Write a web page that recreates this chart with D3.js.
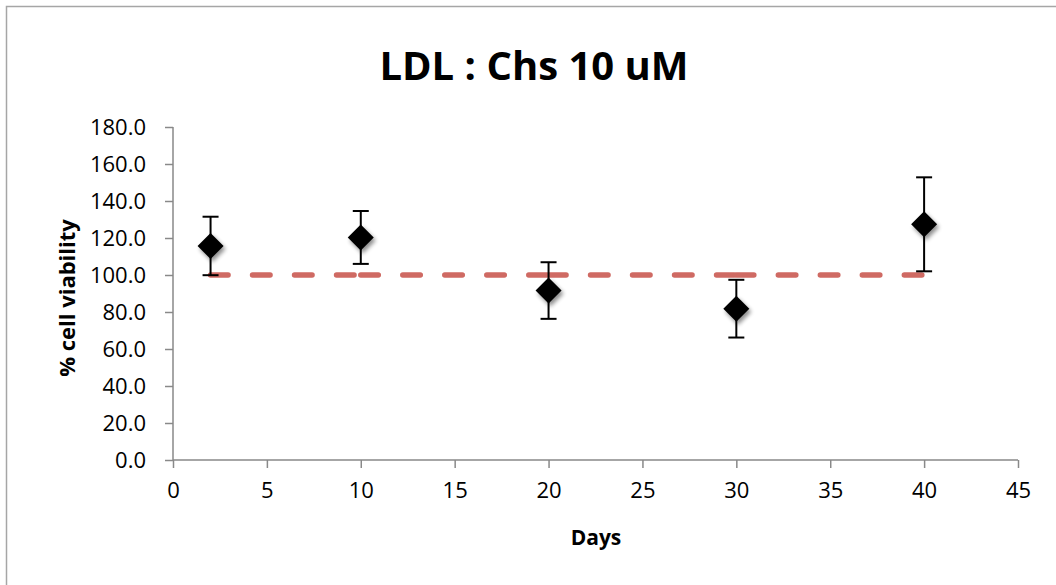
<!DOCTYPE html>
<html>
<head>
<meta charset="utf-8">
<script src="https://cdn.jsdelivr.net/npm/d3@7"></script>
<style>
  body { margin: 0; background: #fff; }
  svg { display: block; font-family: "Open Sans", sans-serif; }
</style>
</head>
<body>
<svg width="1056" height="585"></svg>
<script>
// data
var days = [2, 10, 20, 30, 40],
    viability = [115.7, 120.3, 91.6, 81.8, 127.4],
    errors = [15.8, 14.3, 15.3, 15.6, 25.4],
    controlLevel = [100, 100, 100, 100, 100],
    xTicks = [0, 5, 10, 15, 20, 25, 30, 35, 40, 45],
    yTicks = [0, 20, 40, 60, 80, 100, 120, 140, 160, 180];

var svg = d3.select('svg'),
    axisColor = '#898989',
    lineColor = '#cf6a63',
    plotLeft = 173,
    plotRight = 1018,
    plotTop = 127,
    plotBottom = 460;

// chart border (only left and top edges visible in the crop)
svg.append('path')
    .attr('d', 'M6.5,585 V6.5 H1056')
    .attr('fill', 'none')
    .attr('stroke', '#a6a6a6')
    .attr('stroke-width', 1.5);

var x = d3.scaleLinear().domain([0, 45]).range([plotLeft, plotRight]);
var y = d3.scaleLinear().domain([0, 180]).range([plotBottom, plotTop]);

var defs = svg.append('defs');
var shadow = defs.append('filter')
    .attr('id', 'shadow')
    .attr('x', '-50%').attr('y', '-50%')
    .attr('width', '200%').attr('height', '200%');
shadow.append('feGaussianBlur').attr('in', 'SourceAlpha').attr('stdDeviation', 2.2);
shadow.append('feOffset').attr('dx', 1.5).attr('dy', 3).attr('result', 'blur');
shadow.append('feComponentTransfer').append('feFuncA').attr('type', 'linear').attr('slope', 0.45);
var merge = shadow.append('feMerge');
merge.append('feMergeNode');
merge.append('feMergeNode').attr('in', 'SourceGraphic');

// axes
var yAxis = d3.axisLeft(y)
    .tickValues(yTicks)
    .tickFormat(d3.format('.1f'))
    .tickSize(8)
    .tickPadding(19);

var xAxis = d3.axisBottom(x)
    .tickValues(xTicks)
    .tickSize(8)
    .tickPadding(14);

var gY = svg.append('g')
    .attr('transform', `translate(${plotLeft},0)`)
    .call(yAxis);

var gX = svg.append('g')
    .attr('transform', `translate(0,${plotBottom})`)
    .call(xAxis);

[gX, gY].forEach(function(g) {
    g.select('.domain').remove();
    g.selectAll('.tick line').attr('stroke', axisColor).attr('stroke-width', 1.5);
    g.selectAll('.tick text')
        .attr('fill', '#000')
        .style('font-size', '22px')
        .style('font-family', '"Open Sans", sans-serif');
});

svg.append('line')
    .attr('x1', plotLeft).attr('x2', plotLeft)
    .attr('y1', plotTop).attr('y2', plotBottom)
    .attr('stroke', axisColor).attr('stroke-width', 1.5);
svg.append('line')
    .attr('x1', plotLeft).attr('x2', plotRight)
    .attr('y1', plotBottom).attr('y2', plotBottom)
    .attr('stroke', axisColor).attr('stroke-width', 1.5);

// dashed control line, dash pattern restarts on each segment
d3.pairs(d3.zip(days, controlLevel)).forEach(function(p) {
    svg.append('line')
        .attr('x1', x(p[0][0])).attr('y1', y(p[0][1]))
        .attr('x2', x(p[1][0])).attr('y2', y(p[1][1]))
        .attr('stroke', lineColor)
        .attr('stroke-width', 5.5)
        .attr('stroke-linecap', 'round')
        .attr('stroke-dasharray', '17.5 24.5');
});

// error bars
var bars = svg.append('g')
    .selectAll('g')
    .data(days)
    .enter().append('g')
    .attr('stroke', '#000')
    .attr('stroke-width', 2);

bars.append('line')
    .attr('x1', d => x(d)).attr('x2', d => x(d))
    .attr('y1', (d, i) => y(viability[i] - errors[i]))
    .attr('y2', (d, i) => y(viability[i] + errors[i]));
bars.append('line')
    .attr('x1', d => x(d) - 8).attr('x2', d => x(d) + 8)
    .attr('y1', (d, i) => y(viability[i] + errors[i]))
    .attr('y2', (d, i) => y(viability[i] + errors[i]));
bars.append('line')
    .attr('x1', d => x(d) - 8).attr('x2', d => x(d) + 8)
    .attr('y1', (d, i) => y(viability[i] - errors[i]))
    .attr('y2', (d, i) => y(viability[i] - errors[i]));

// diamond markers
svg.append('g')
    .selectAll('path')
    .data(days)
    .enter().append('path')
    .attr('d', 'M0,-13 L13,0 L0,13 L-13,0 Z')
    .attr('transform', (d, i) => `translate(${x(d)},${y(viability[i])})`)
    .attr('fill', '#000')
    .attr('filter', 'url(#shadow)');

// titles
svg.append('text')
    .attr('x', 534).attr('y', 80)
    .attr('text-anchor', 'middle')
    .style('font-size', '40px')
    .style('font-weight', 'bold')
    .text('LDL : Chs 10 uM');

svg.append('text')
    .attr('x', 596).attr('y', 545)
    .attr('text-anchor', 'middle')
    .style('font-size', '21px')
    .style('font-weight', 'bold')
    .text('Days');

svg.append('text')
    .attr('transform', 'translate(75,298) rotate(-90)')
    .attr('text-anchor', 'middle')
    .style('font-size', '22px')
    .style('font-weight', 'bold')
    .text('% cell viability');
</script>
</body>
</html>
